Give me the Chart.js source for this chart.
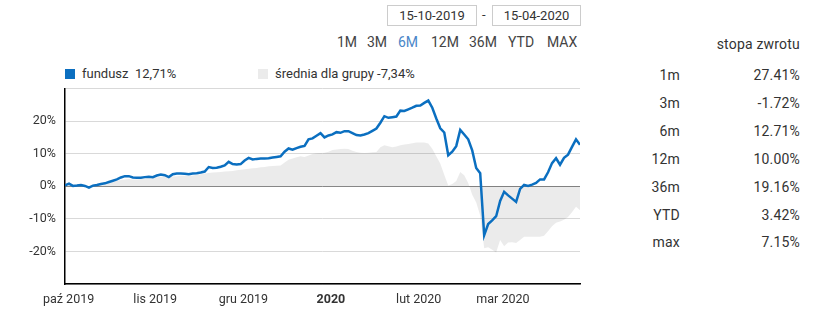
<!DOCTYPE html>
<html lang="pl">
<head>
<meta charset="utf-8">
<script src="https://cdn.jsdelivr.net/npm/chart.js@4/dist/chart.umd.min.js"></script>
<style>
  body { margin:0; width:826px; height:325px; position:relative; background:#fff; font-family:Roboto, "Open Sans", sans-serif; color:#333; overflow:hidden; }
  .box { position:absolute; top:5px; height:19px; border:1px solid #ccc; font-size:13px; line-height:19px; text-align:center; color:#333; }
  .per { position:absolute; top:34px; font-size:14px; color:#444; }
  .per.on { color:#4a86c8; }
  .leg { position:absolute; top:66px; font-size:13px; line-height:16px; color:#333; }
  .leg i { position:absolute; left:0; top:3px; width:10px; height:10px; }
  .leg span { margin-left:17px; white-space:pre; }
  .tab { position:absolute; font-size:14px; color:#333; letter-spacing:.2px; }
  #wykres { position:absolute; left:0; top:72px; }
</style>
</head>
<body>
<div class="box" style="left:387px;width:88px;">15-10-2019</div>
<div style="position:absolute;left:482px;top:7px;font-size:13px;">-</div>
<div class="box" style="left:492px;width:87px;">15-04-2020</div>

<div id="okresy"></div>

<div class="leg" style="left:65px;"><i style="background:#0b6fc0"></i><span>fundusz  12,71%</span></div>
<div class="leg" style="left:258px;"><i style="background:#ebebeb"></i><span>średnia dla grupy -7,34%</span></div>

<div id="tabela"></div>

<canvas id="wykres" width="590" height="253"></canvas>

<script>
// ── Dane ──
const fundusz = [0.3,0.8,0.1,0.2,0.4,0.1,-0.4,0.2,0.4,0.7,
  0.9,1.3,1.7,2.1,2.7,3.1,3.1,2.7,2.6,2.6,
  2.8,2.9,2.8,3.3,3.6,3.4,2.8,3.7,3.9,3.9,
  3.8,3.7,3.9,4.0,4.2,4.5,5.9,5.6,5.7,6.0,
  6.4,7.5,6.8,6.7,6.8,7.9,8.7,8.2,8.4,8.5,
  8.5,8.6,8.8,9.0,9.2,10.6,11.6,11.2,11.7,12.1,
  12.4,14.4,14.7,15.5,16.3,15.0,15.6,15.9,16.6,16.4,
  16.9,16.9,16.3,15.7,15.6,15.9,16.3,17.0,17.7,19.5,
  21.5,21.0,21.2,21.4,23.2,23.1,23.6,24.1,24.7,24.8,
  25.6,26.3,24.1,20.8,17.8,16.5,9.5,10.6,12.3,17.3,
  15.9,14.4,11.0,5.6,4.0,-15.0,-11.6,-10.5,-9.2,-4.5,
  -1.7,-2.8,-3.8,-4.8,-0.8,0.4,0.1,0.5,1.0,2.1,
  2.1,4.3,7.1,8.6,6.6,8.7,9.7,12.1,14.4,12.71];

const srednia = [0.2,0.3,0.2,0.2,0.3,0.2,0.1,0.3,0.5,0.6,
  0.8,1.1,1.4,1.7,1.9,2.1,2.2,2.1,2.1,2.2,
  2.3,2.4,2.5,2.7,2.9,3.0,2.9,3.0,3.1,3.2,
  3.2,3.2,3.3,3.5,3.7,3.9,4.1,4.2,4.3,4.4,
  4.5,4.6,4.7,4.9,5.1,5.2,5.4,5.5,5.6,5.8,
  5.9,6.1,6.2,6.3,6.4,7.3,8.1,8.5,8.9,9.2,
  9.0,9.4,9.9,10.1,10.2,10.3,10.6,11.1,11.3,11.4,
  11.5,11.4,10.9,10.5,10.3,10.2,10.3,10.4,10.5,12.0,
  12.6,12.3,12.0,12.2,12.6,12.8,13.0,13.2,13.4,13.4,
  13.4,13.1,11.5,9.2,7.0,3.5,0.2,0.7,1.6,4.4,
  3.4,1.0,-2.6,-5.0,-9.0,-19.0,-18.7,-19.5,-20.3,-16.5,
  -18.4,-17.3,-17.2,-17.4,-16.5,-15.5,-15.5,-15.5,-15.5,-15.5,
  -15.2,-13.8,-12.3,-11.2,-10.8,-10.3,-9.4,-8.0,-6.3,-7.34];

const miesiace    = ['paź 2019','lis 2019','gru 2019','2020','lut 2020','mar 2020'];
const miesiacePoz = [0.9, 22.6, 44.7, 66.6, 88.6, 109.7];

const okresy = ['1M','3M','6M','12M','36M','YTD','MAX'];
const okresyX = [337,367,398,431,469,508,547];

const stopyNazwy  = ['1m','3m','6m','12m','36m','YTD','max'];
const stopyWartosci = ['27.41%','-1.72%','12.71%','10.00%','19.16%','3.42%','7.15%'];

// ── Przyciski okresu ──
okresy.forEach((o, i) => {
  const s = document.createElement('div');
  s.className = 'per' + (o === '6M' ? ' on' : '');
  s.style.left = okresyX[i] + 'px';
  s.textContent = o;
  document.getElementById('okresy').appendChild(s);
});

// ── Tabela stóp zwrotu ──
function tekst(t, right, top) {
  const d = document.createElement('div');
  d.className = 'tab';
  d.style.right = (826 - right) + 'px';
  d.style.top = top + 'px';
  d.textContent = t;
  document.getElementById('tabela').appendChild(d);
}
tekst('stopa zwrotu', 800, 36);
stopyNazwy.forEach((n, i) => {
  const y = 67 + i * 27.9;
  tekst(n, 680, y);
  tekst(stopyWartosci[i], 800, y);
});

// ── Wykres ──
const pkt = arr => arr.map((v, i) => ({ x: i, y: v }));

new Chart(document.getElementById('wykres'), {
  type: 'line',
  data: {
    datasets: [
      { label: 'fundusz', data: pkt(fundusz), borderColor: '#0b6fc0', borderWidth: 2.5,
        pointRadius: 0, fill: false, tension: 0, order: 0 },
      { label: 'średnia dla grupy', data: pkt(srednia), borderWidth: 0, borderColor: 'rgba(0,0,0,0)',
        backgroundColor: 'rgba(0,0,0,0.08)', pointRadius: 0, fill: 'origin', tension: 0, order: 1 },
    ]
  },
  options: {
    responsive: false, animation: false,
    layout: { padding: { top: 0, right: 10, left: 0, bottom: 0 } },
    plugins: { legend: { display: false }, tooltip: { enabled: false } },
    scales: {
      x: {
        type: 'linear', min: 0, max: fundusz.length - 1,
        afterBuildTicks: ax => { ax.ticks = miesiacePoz.map(v => ({ value: v })); },
        afterFit: ax => { ax.height = 41; },
        grid: { display: false, drawTicks: false },
        border: { color: '#000', width: 1.5 },
        ticks: {
          autoSkip: false, maxRotation: 0, padding: 8, color: '#333',
          font: c => ({ family: 'Roboto', size: 12.5, weight: c.index === 3 ? 'bold' : 'normal' }),
          callback: (v, i) => miesiace[i]
        }
      },
      y: {
        min: -30, max: 30,
        afterFit: ax => { ax.width = 65; },
        grid: {
          drawTicks: false, lineWidth: 1,
          color: c => c.tick.value === 0 ? '#8a8a8a' : '#d9d9d9'
        },
        border: { color: '#000', width: 1.5 },
        ticks: {
          stepSize: 10, padding: 9, color: '#333',
          font: { family: 'Roboto', size: 12.5 },
          callback: v => Math.abs(v) === 30 ? '' : v + '%'
        }
      }
    }
  }
});
</script>
</body>
</html>
